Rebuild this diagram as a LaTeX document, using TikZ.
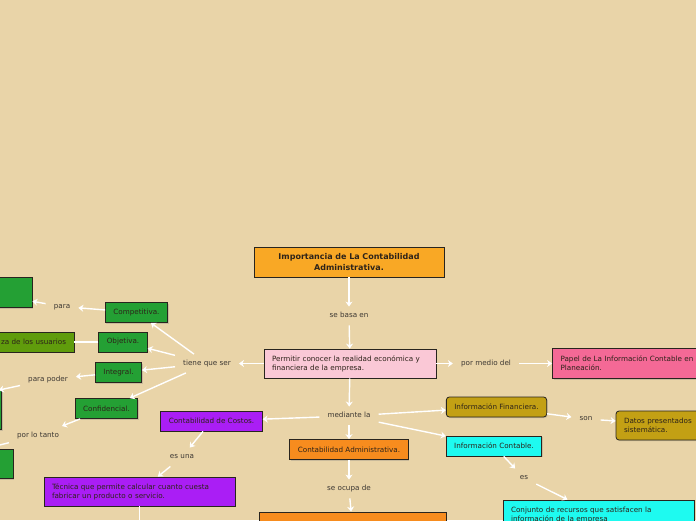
\documentclass[tikz,border=0pt]{standalone}
\usepackage{fontspec}
\setmainfont{DejaVu Sans}
\usepackage{tikz}
\usetikzlibrary{arrows.meta,positioning,shadows}
\usepackage{xcolor}
\definecolor{bgcol}{RGB}{233,212,168}
\definecolor{linecol}{RGB}{40,36,30}
\definecolor{txtcol}{RGB}{45,35,25}
\definecolor{lblcol}{RGB}{60,55,50}
\definecolor{titlecol}{RGB}{249,168,37}
\definecolor{rosecol}{RGB}{250,200,214}
\definecolor{magcol}{RGB}{244,105,150}
\definecolor{greencol}{RGB}{36,160,52}
\definecolor{olivecol}{RGB}{96,156,12}
\definecolor{purpcol}{RGB}{170,30,245}
\definecolor{orangecol}{RGB}{247,140,30}
\definecolor{goldcol}{RGB}{195,160,20}
\definecolor{cyancol}{RGB}{30,250,240}
\newcommand\mapfont{\fontsize{7.2}{9}\selectfont}
\newcommand\headfont{\fontsize{8}{11}\selectfont\bfseries}

\begin{document}
\begin{tikzpicture}[
  on grid,
  box/.style={rectangle, draw=linecol, line width=0.8pt, font=\mapfont,
              text=txtcol, align=left, inner xsep=8pt, inner ysep=3pt,
              minimum height=20pt,
              drop shadow={shadow xshift=1pt, shadow yshift=-1pt, opacity=0.3}},
  tbox/.style={box, fill=titlecol, align=center, text width=174pt,
               minimum height=30pt, font=\headfont},
  rbox/.style={box, fill=rosecol},
  mbox/.style={box, fill=magcol},
  gbox/.style={box, fill=greencol},
  obox/.style={box, fill=olivecol},
  pbox/.style={box, fill=purpcol},
  orbox/.style={box, fill=orangecol},
  ybox/.style={box, fill=goldcol, rounded corners=3pt},
  cbox/.style={box, fill=cyancol},
  lbl/.style={font=\mapfont, text=lblcol, inner xsep=8pt, inner ysep=6pt,
              text height=5pt, text depth=1.5pt},
  arr/.style={draw=white, line width=1.4pt, -{Stealth[length=5pt, width=7pt]}},
  link/.style={draw=white, line width=1.4pt}
]

\useasboundingbox (0,0) rectangle (696pt,-520pt);
\fill[bgcol] (0,0) rectangle (696pt,-520pt);
\clip (0,0) rectangle (696pt,-520pt);

%% Centre column
\node[tbox] (title) at (349pt,-262pt)
  {Importancia de La Contabilidad\\Administrativa.};
\node[lbl, below=54pt of title] (sebasa) {se basa en};
\node[rbox, text width=156pt, minimum height=29pt, below right=47.5pt and 1pt of sebasa] (permitir)
  {Permitir conocer la realidad económica y\\financiera de la empresa.};
\node[lbl, below left=52.5pt and 1pt of permitir] (mediante) {mediante la};
\node[orbox, below=33.5pt of mediante] (contadm) {Contabilidad Administrativa.};
\node[lbl, below=39.5pt of contadm] (seocupa) {se ocupa de};
\node[orbox, minimum width=187pt, minimum height=30pt,
      below right=38pt and 3.5pt of seocupa] (ocupa) {};

%% Right branch
\node[lbl, right=136pt of permitir] (pormedio) {por medio del};
\node[mbox, text width=170pt, minimum height=30pt, right=159.5pt of pormedio] (papel)
  {Papel de La Información Contable en\\Planeación.};
\node[ybox, above right=9pt and 147.5pt of mediante] (financiera)
  {Información Financiera.};
\node[cbox, below right=30pt and 145pt of mediante] (contable)
  {Información Contable.};
\node[lbl, below right=12pt and 89.5pt of financiera] (son) {son};
\node[ybox, text width=120pt, minimum height=29pt,
      below right=6.5pt and 98pt of son] (datos)
  {Datos presentados\\sistemática.};
\node[lbl, below right=32pt and 30pt of contable] (es) {es};
\node[cbox, text width=175pt, minimum height=30pt,
      below right=37pt and 74.5pt of es] (conjunto)
  {Conjunto de recursos que satisfacen la\\información de la empresa};

%% Left branch
\node[lbl, left=143pt of permitir] (tiene) {tiene que ser};
\node[gbox, above left=51pt and 70.5pt of tiene] (competitiva) {Competitiva.};
\node[gbox, above left=21.5pt and 84pt of tiene] (objetiva) {Objetiva.};
\node[gbox, below left=9pt and 88.5pt of tiene] (integral) {Integral.};
\node[gbox, below left=45pt and 100.5pt of tiene] (confidencial) {Confidencial.};

\node[lbl, above left=6pt and 74.5pt of competitiva] (para) {para};
\node[gbox, minimum width=100pt, minimum height=30pt,
      above left=14pt and 80pt of para] (compbox) {};
\node[obox, text width=100pt, align=right, left=107pt of objetiva] (usuarios)
  {za de los usuarios};
\node[lbl, below left=7pt and 70.5pt of integral] (parapoder) {para poder};
\node[gbox, minimum width=190pt, minimum height=39pt,
      below left=30.5pt and 141.5pt of parapoder] (intbox) {};
\node[lbl, below left=27pt and 68.5pt of confidencial] (porlotanto) {por lo tanto};
\node[gbox, minimum width=180pt, minimum height=29pt,
      below left=28.5pt and 115pt of porlotanto] (confbox) {};

\node[pbox, below left=5pt and 137.5pt of mediante] (costos)
  {Contabilidad de Costos.};
\node[lbl, below left=36pt and 29.5pt of costos] (esuna) {es una};
\node[pbox, text width=175pt, minimum height=29pt,
      below left=34.5pt and 42.5pt of esuna] (tecnica)
  {Técnica que permite calcular cuanto cuesta\\fabricar un producto o servicio.};
\coordinate[below=40pt of tecnica] (tecend);

%% Arrows
\draw[arr] (title) -- (sebasa);
\draw[arr] (sebasa) -- (permitir);
\draw[arr] (permitir) -- (mediante);
\draw[arr] (mediante) -- (contadm);
\draw[arr] (contadm) -- (seocupa);
\draw[arr] (seocupa) -- (ocupa);
\draw[arr] (permitir) -- (pormedio);
\draw[arr] (pormedio) -- (papel);
\draw[arr] (mediante) -- (financiera);
\draw[arr] (mediante) -- (contable);
\draw[arr] (financiera) -- (son);
\draw[arr] (son) -- (datos);
\draw[arr] (contable) -- (es);
\draw[arr] (es) -- (conjunto);
\draw[arr] (permitir) -- (tiene);
\draw[arr] (tiene) -- (competitiva);
\draw[arr] (tiene) -- (objetiva);
\draw[arr] (tiene) -- (integral);
\draw[arr] (tiene) -- (confidencial);
\draw[arr] (competitiva) -- (para);
\draw[arr] (para) -- (compbox);
\draw[link] (objetiva) -- (usuarios);
\draw[arr] (integral) -- (parapoder);
\draw[arr] (parapoder) -- (intbox);
\draw[arr] (confidencial) -- (porlotanto);
\draw[arr] (porlotanto) -- (confbox);
\draw[arr] (mediante) -- (costos);
\draw[arr] (costos) -- (esuna);
\draw[arr] (esuna) -- (tecnica);
\draw[link] (tecnica) -- (tecend);

\end{tikzpicture}
\end{document}
